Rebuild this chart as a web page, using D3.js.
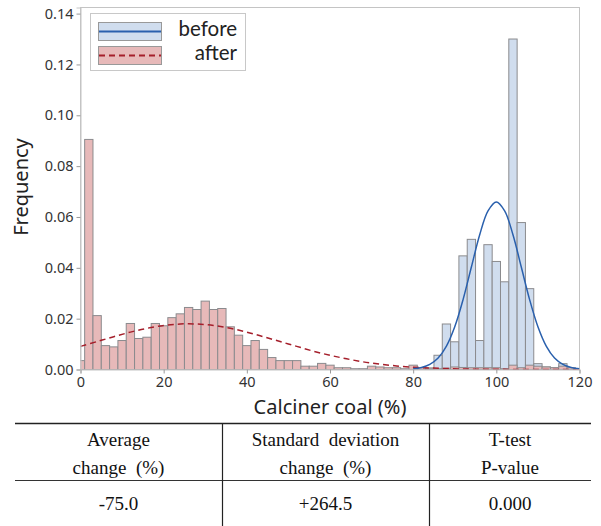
<!DOCTYPE html>
<html>
<head>
<meta charset="utf-8">
<script src="https://cdn.jsdelivr.net/npm/d3@7"></script>
<style>
body{margin:0;background:#fff;}
svg{display:block;}
.tick text{font-family:"Noto Sans","Open Sans",sans-serif;font-size:14.5px;fill:#333;}
.tbl{font-family:"Liberation Serif","Times New Roman",serif;font-size:19px;fill:#111;}
</style>
</head>
<body>
<div id="chart"></div>
<script>
// bin centers (width 2) and frequencies
const beforeBins=[84,86,88,90,92,94,96,98,100,102,104,106,108,110,112,114,116,118];
const beforeFreq=[0.0006,0.0056,0.0179,0.0109,0.0447,0.0512,0.0114,0.0491,0.0425,0.0345,0.1300,0.0578,0.0318,0.0023,0.0010,0.0007,0.0023,0.0005];

const afterBins=[0,2,4,6,8,10,12,14,16,18,20,22,24,26,28,30,32,34,36,38,40,42,44,46,48,50,52,54,56,58,
  60,62,64,66,68,70,72,74,76,78,80,82,84,86,88,90,92,94,96,98,100,102,104,106,108,110,112,114,116,118];
const afterFreq=[0.0035,0.0905,0.0212,0.0094,0.0089,0.0114,0.0181,0.0122,0.0127,0.0181,0.0172,0.0204,0.0219,0.0244,0.0236,0.0269,0.0236,0.0240,0.0168,0.0135,
  0.0094,0.0114,0.0079,0.0047,0.0035,0.0035,0.0035,0.0013,0.0013,0.0024,0.0017,0.0007,0.0007,0.0003,0.0003,0.0013,0.0010,0.0007,0.0007,0.0003,
  0.0017,0.0007,0.0005,0.0003,0.0005,0.0010,0.0008,0.0007,0.0007,0.0007,0.0007,0.0003,0.0017,0.0007,0.0017,0.0013,0.0010,0.0007,0.0013,0.0007];

// fitted curves
const beforeCurveX=[80,82,84,86,88,90,92,94,96,98,100,102,104,106,108,110,112,114,116,118,120];
const beforeCurveY=[0.0003,0.0008,0.0020,0.0045,0.0092,0.0168,0.0275,0.0403,0.0530,0.0624,0.0659,0.0624,0.0530,0.0403,0.0275,0.0168,0.0092,0.0045,0.0020,0.0008,0.0003];
const afterCurveX=[0,4,8,12,16,20,24,28,32,36,40,44,48,52,56,60,64,68,72,76,80,84,88,92,96,100,104,108,112,116,120];
const afterCurveY=[0.0091,0.0110,0.0129,0.0147,0.0162,0.0173,0.0179,0.0179,0.0173,0.0162,0.0147,0.0129,0.0110,0.0091,0.0072,0.0056,0.0042,0.0030,0.0021,0.0014,0.0009,0.0006,0.0004,0.0002,0.0001,0.0001,0,0,0,0,0];

const xTicks=[0,20,40,60,80,100,120];
const yTicks=[0,0.02,0.04,0.06,0.08,0.10,0.12,0.14];
const seriesNames=["before","after"];

const tableHead=[["Average","change  (%)"],["Standard  deviation","change  (%)"],["T-test","P-value"]];
const tableVals=["-75.0","+264.5","0.000"];

const blueFill="#d0ddee",pinkFill="#e7b9b9",barStroke="#8b8b8e";
const blueLine="#2a60ad",redLine="#a51f2b";

const svg=d3.select("#chart").append("svg").attr("width",601).attr("height",526);

const x=d3.scaleLinear().domain([0,120]).range([80.5,579.5]);
const y=d3.scaleLinear().domain([0,0.1424]).range([369.5,7.5]);

svg.append("defs").append("clipPath").attr("id","plotclip")
  .append("rect").attr("x",80.5).attr("y",7.5).attr("width",499).attr("height",362);

// frame
svg.append("rect")
  .attr("x",80.5).attr("y",7.5).attr("width",499).attr("height",362)
  .attr("fill","none").attr("stroke","#c4c4c4");

const plot=svg.append("g").attr("clip-path","url(#plotclip)");

plot.selectAll("rect.before").data(beforeBins).enter().append("rect")
  .attr("class","before")
  .attr("x",d=>x(d-1)).attr("width",d=>x(d+1)-x(d-1))
  .attr("y",(d,i)=>y(beforeFreq[i])).attr("height",(d,i)=>y(0)-y(beforeFreq[i]))
  .attr("fill",blueFill).attr("stroke",barStroke).attr("stroke-width",1);

plot.selectAll("rect.after").data(afterBins).enter().append("rect")
  .attr("class","after")
  .attr("x",d=>x(d-1)).attr("width",d=>x(d+1)-x(d-1))
  .attr("y",(d,i)=>y(afterFreq[i])).attr("height",(d,i)=>y(0)-y(afterFreq[i]))
  .attr("fill",pinkFill).attr("stroke",barStroke).attr("stroke-width",1);

const line=d3.line().x(d=>x(d[0])).y(d=>y(d[1])).curve(d3.curveCatmullRom);

plot.append("path")
  .attr("d",line(afterCurveX.map((v,i)=>[v,afterCurveY[i]])))
  .attr("fill","none").attr("stroke",redLine).attr("stroke-width",1.5)
  .attr("stroke-dasharray","6,4");

plot.append("path")
  .attr("d",line(beforeCurveX.map((v,i)=>[v,beforeCurveY[i]])))
  .attr("fill","none").attr("stroke",blueLine).attr("stroke-width",1.5);

// axes
const xAxis=svg.append("g").attr("transform","translate(0,369.5)")
  .call(d3.axisBottom(x).tickValues(xTicks).tickSize(4).tickPadding(3).tickFormat(d3.format("d")));
const yAxis=svg.append("g").attr("transform","translate(80.5,0)")
  .call(d3.axisLeft(y).tickValues(yTicks).tickSize(4).tickPadding(3).tickFormat(d3.format(".2f")));
[xAxis,yAxis].forEach(a=>{
  a.select(".domain").attr("stroke","#c4c4c4");
  a.selectAll(".tick line").attr("stroke","#9a9a9a");
});

svg.append("text")
  .attr("x",330).attr("y",414)
  .attr("text-anchor","middle")
  .attr("font-family","Noto Sans, Open Sans, sans-serif").attr("font-size",20).attr("fill","#222")
  .text("Calciner coal (%)");

svg.append("text")
  .attr("transform","translate(28,187) rotate(-90)")
  .attr("text-anchor","middle")
  .attr("font-family","Noto Sans, Open Sans, sans-serif").attr("font-size",20).attr("fill","#222")
  .text("Frequency");

// legend
const lg=svg.append("g");
lg.append("rect").attr("x",90.5).attr("y",13.5).attr("width",155).attr("height",57)
  .attr("fill","#fff").attr("stroke","#c8c8c8");
const legFill=[blueFill,pinkFill],legLine=[blueLine,redLine],legDash=[null,"6,4"];
seriesNames.forEach((s,i)=>{
  const top=22.5+i*24;
  lg.append("rect").attr("x",98.5).attr("y",top).attr("width",63).attr("height",18)
    .attr("fill",legFill[i]).attr("stroke","#999");
  lg.append("line").attr("x1",99).attr("x2",161).attr("y1",top+9).attr("y2",top+9)
    .attr("stroke",legLine[i]).attr("stroke-width",2).attr("stroke-dasharray",legDash[i]);
  lg.append("text").attr("x",237).attr("y",top+13.5)
    .attr("text-anchor","end")
    .attr("font-family","Lato, Noto Sans, sans-serif").attr("font-size",20.5).attr("fill","#222")
    .text(s);
});

// table below the chart
const tb=svg.append("g");
const colEdges=[15,222,429,591];
tb.append("line").attr("x1",colEdges[0]).attr("x2",colEdges[3]).attr("y1",423.5).attr("y2",423.5)
  .attr("stroke","#222").attr("stroke-width",1.6);
tb.append("line").attr("x1",colEdges[0]).attr("x2",colEdges[3]).attr("y1",480.5).attr("y2",480.5)
  .attr("stroke","#333").attr("stroke-width",1.2);
[colEdges[1],colEdges[2]].forEach(cx=>{
  tb.append("line").attr("x1",cx+0.5).attr("x2",cx+0.5).attr("y1",423).attr("y2",526)
    .attr("stroke","#222").attr("stroke-width",1.2);
});
tableHead.forEach((lines,i)=>{
  const cx=(colEdges[i]+colEdges[i+1])/2;
  lines.forEach((t,j)=>{
    tb.append("text").attr("class","tbl")
      .attr("x",cx).attr("y",446+j*27.5)
      .attr("text-anchor","middle")
      .style("white-space","pre")
      .text(t);
  });
  tb.append("text").attr("class","tbl")
    .attr("x",cx).attr("y",510)
    .attr("text-anchor","middle")
    .text(tableVals[i]);
});
</script>
</body>
</html>
